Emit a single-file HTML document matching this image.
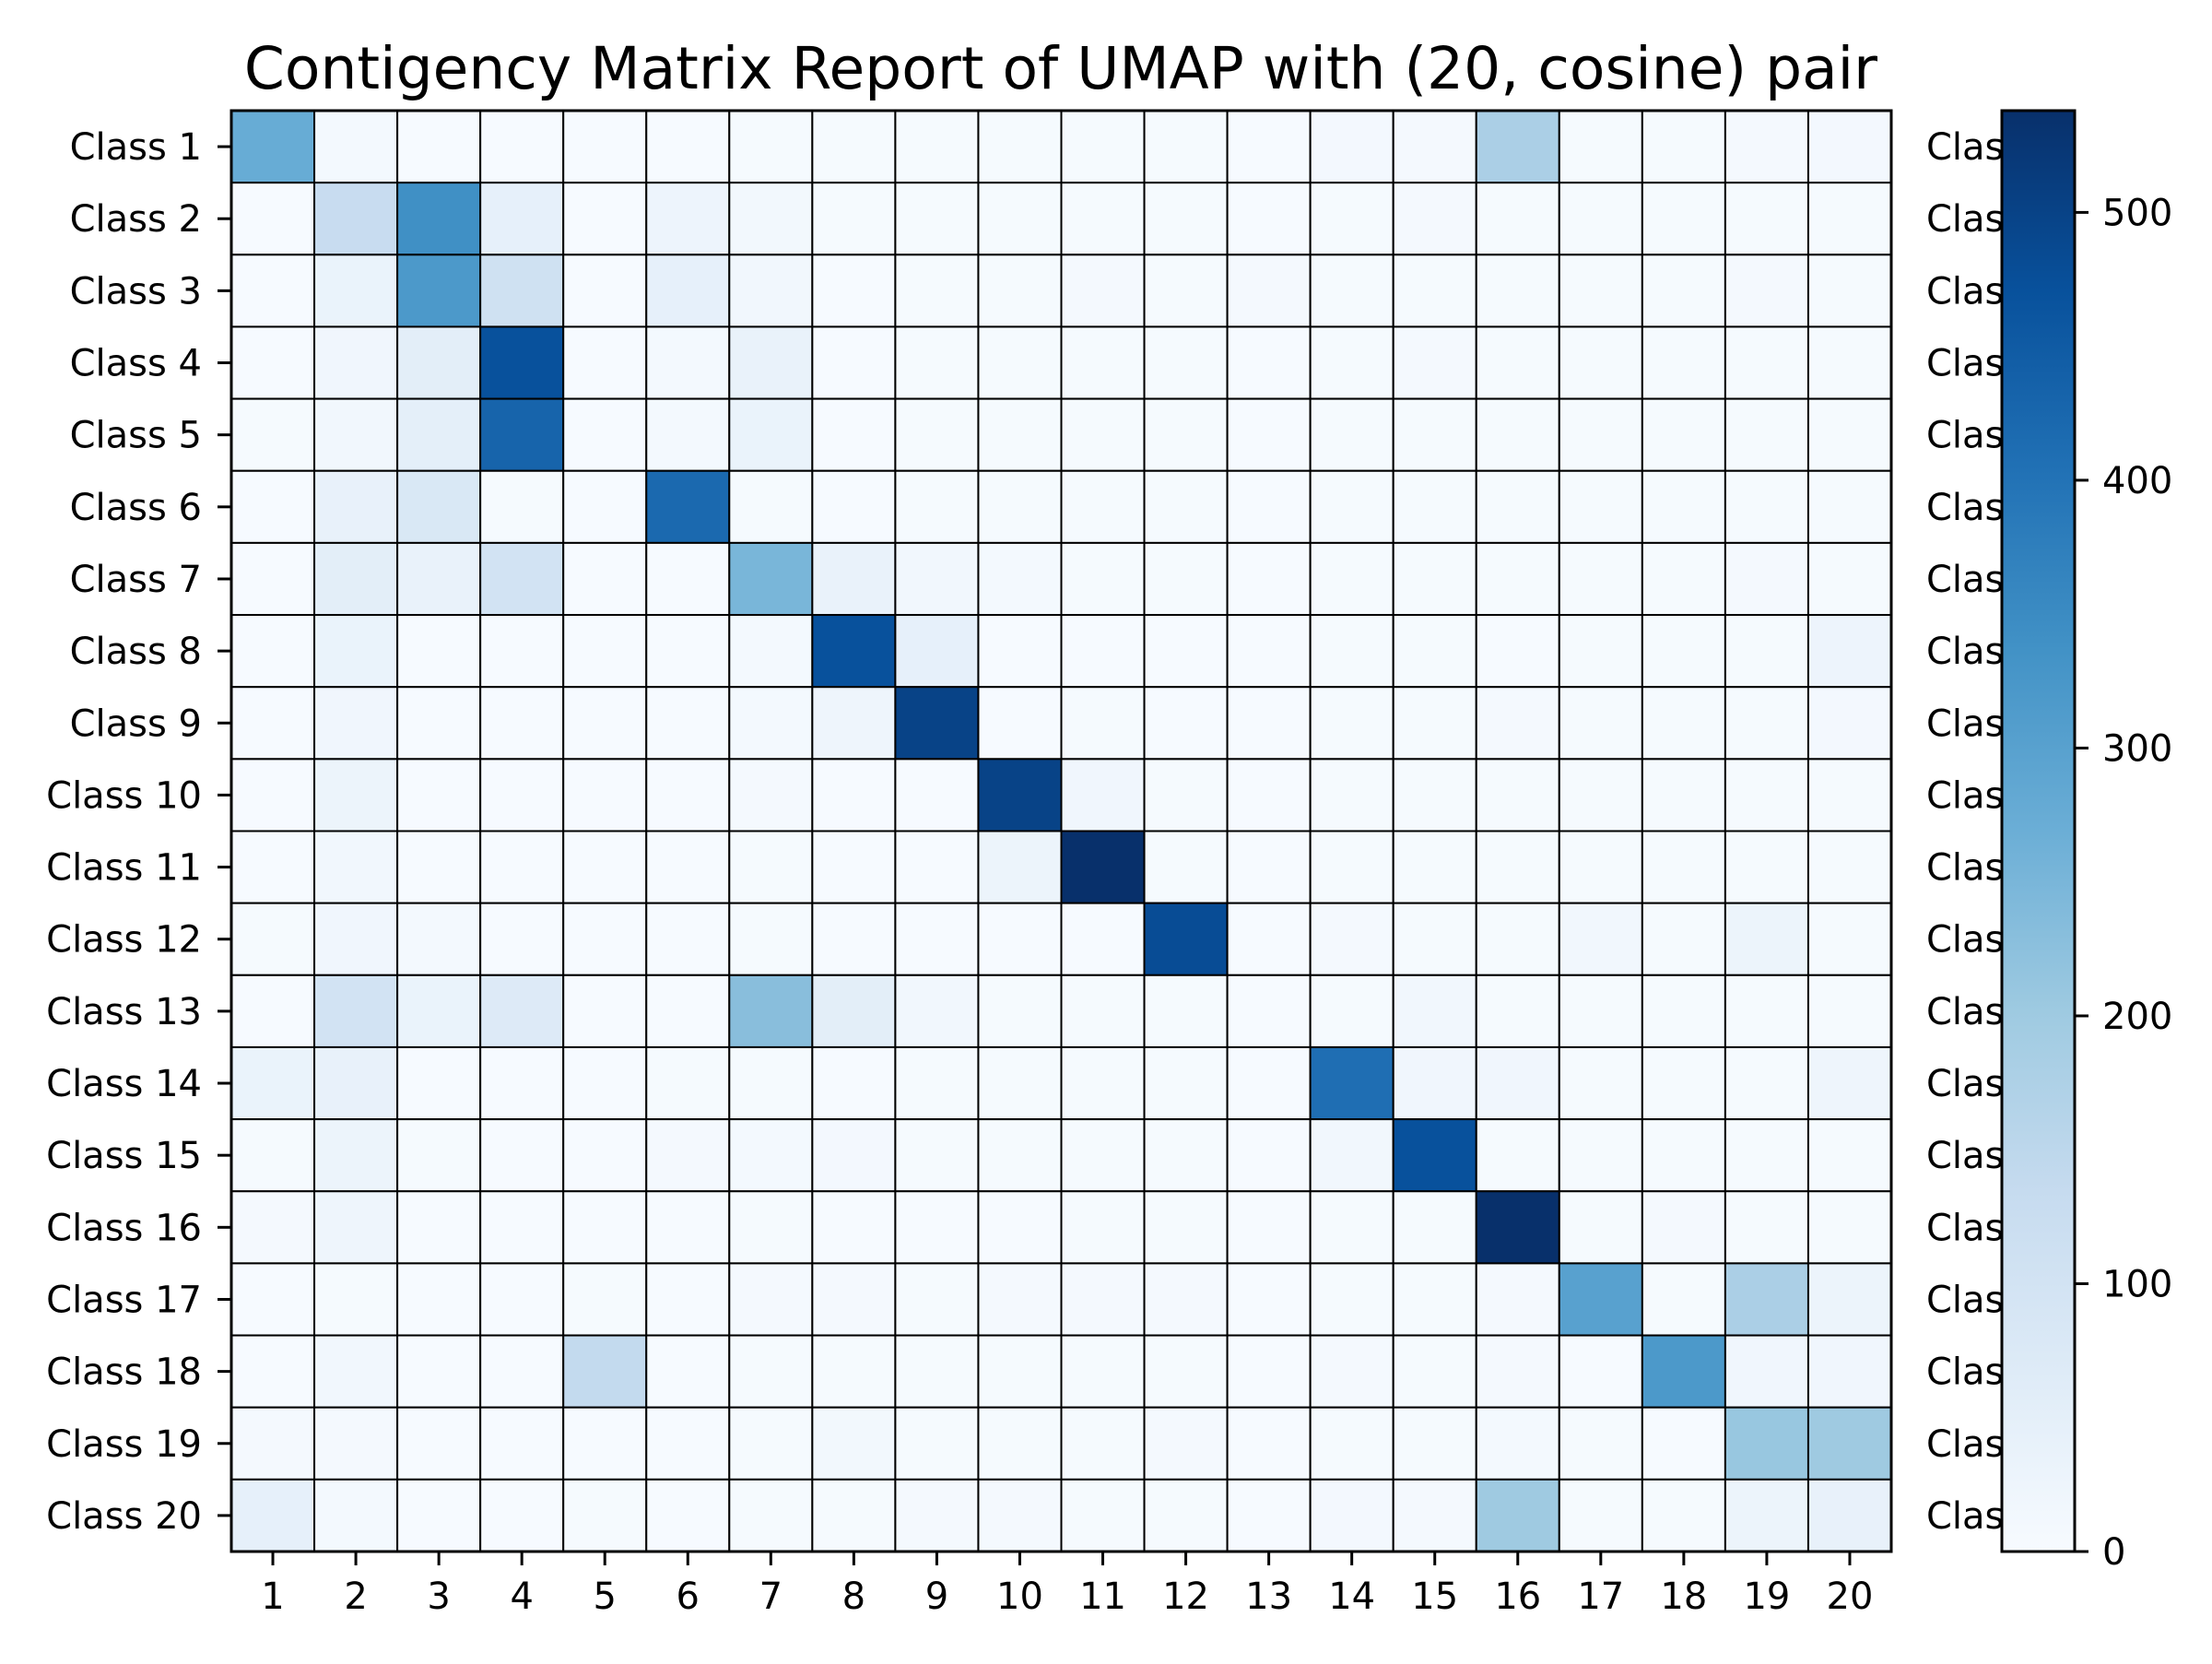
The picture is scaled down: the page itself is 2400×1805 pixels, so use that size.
<!DOCTYPE html>
<html><head><meta charset="utf-8"><style>
html,body{margin:0;padding:0;background:#fff;}
svg text{font-family:"DejaVu Sans","Liberation Sans",sans-serif;fill:#000;}
</style></head><body>
<svg id="chart" xmlns="http://www.w3.org/2000/svg" width="2400" height="1800" viewBox="0 0 2400 1800">
<rect width="2400" height="1800" fill="#fff"/>
<text x="1151" y="96" font-size="63" text-anchor="middle">Contigency Matrix Report of UMAP with (20, cosine) pair</text>
<defs>
<clipPath id="rclip"><rect x="2060" y="100" width="112" height="1620"/></clipPath>
<linearGradient id="cbgrad" x1="0" y1="1" x2="0" y2="0">
<stop offset="0" stop-color="#f7fbff"/><stop offset="0.125" stop-color="#deebf7"/><stop offset="0.25" stop-color="#c6dbef"/><stop offset="0.375" stop-color="#9ecae1"/><stop offset="0.5" stop-color="#6baed6"/><stop offset="0.625" stop-color="#4292c6"/><stop offset="0.75" stop-color="#2171b5"/><stop offset="0.875" stop-color="#08519c"/><stop offset="1" stop-color="#08306b"/>
</linearGradient>
</defs>
<g id="cells"></g>
<g id="axes"></g>
</svg>
<script>
const rowLabels = ["Class 1","Class 2","Class 3","Class 4","Class 5","Class 6","Class 7","Class 8","Class 9","Class 10","Class 11","Class 12","Class 13","Class 14","Class 15","Class 16","Class 17","Class 18","Class 19","Class 20"];
const colLabels = ["1","2","3","4","5","6","7","8","9","10","11","12","13","14","15","16","17","18","19","20"];
const cbTicks = [0,100,200,300,400,500];
const vmax = 538;
const row1  = [275,10,4,4,4,4,5,5,5,5,5,5,4,12,8,180,5,6,8,12];
const row2  = [4,130,340,45,4,28,14,5,5,5,5,5,4,5,8,5,5,5,5,6];
const row3  = [4,35,320,110,4,45,15,4,5,5,8,5,8,5,5,5,5,6,8,5];
const row4  = [4,20,55,470,4,10,38,4,5,5,5,5,4,5,8,5,5,5,5,6];
const row5  = [5,15,50,430,4,10,35,4,5,5,5,5,4,5,5,5,5,5,5,6];
const row6  = [4,40,80,5,4,420,5,4,5,5,5,5,4,5,6,5,5,5,5,6];
const row7  = [4,55,38,100,4,4,250,38,15,10,5,5,4,5,6,5,5,5,8,6];
const row8  = [4,35,4,4,4,4,10,470,45,4,4,4,4,5,5,4,5,5,5,28];
const row9  = [4,20,4,4,4,4,10,25,500,4,6,4,4,5,5,8,5,5,5,12];
const row10 = [4,30,4,4,4,4,8,4,4,500,20,5,4,5,5,5,5,5,5,6];
const row11 = [4,15,4,4,4,4,6,4,4,30,538,5,4,5,5,5,5,5,5,6];
const row12 = [6,20,10,4,4,4,6,4,4,4,4,480,4,8,5,5,15,5,30,5];
const row13 = [4,100,35,70,4,4,230,55,15,5,5,5,4,5,15,5,5,5,5,6];
const row14 = [35,40,4,4,4,5,6,4,6,5,5,6,4,410,20,20,5,5,6,25];
const row15 = [6,30,5,4,4,8,10,12,6,5,5,6,4,15,470,5,5,5,6,5];
const row16 = [8,25,4,4,4,4,5,4,4,4,5,6,4,5,5,538,5,8,5,5];
const row17 = [4,6,4,4,6,4,8,8,6,8,8,8,4,5,6,8,300,5,180,30];
const row18 = [4,15,4,4,140,4,6,6,6,6,6,6,4,8,5,8,4,320,20,20];
const row19 = [8,8,4,4,4,4,6,14,6,6,6,8,4,6,6,10,6,4,210,200];
const row20 = [45,10,4,4,5,4,5,5,8,8,6,6,4,12,8,200,5,5,30,40];
const matrix = [row1,row2,row3,row4,row5,row6,row7,row8,row9,row10,row11,row12,row13,row14,row15,row16,row17,row18,row19,row20];

const NS = "http://www.w3.org/2000/svg";
const X0 = 251, X1 = 2052, Y0 = 120, Y1 = 1683;
const CBX0 = 2172, CBX1 = 2251;
const cw = (X1 - X0) / colLabels.length, ch = (Y1 - Y0) / rowLabels.length;
function xPos(j){ return X0 + j * cw; }
function yPos(i){ return Y0 + i * ch; }
function cbY(v){ return Y1 - (v / vmax) * (Y1 - Y0); }
const stops = ["#f7fbff","#deebf7","#c6dbef","#9ecae1","#6baed6","#4292c6","#2171b5","#08519c","#08306b"];
function hex(c){ return [1,3,5].map(k=>parseInt(c.substr(k,2),16)); }
function color(v){
  let t = Math.max(0, Math.min(1, v / vmax)) * (stops.length - 1);
  let k = Math.min(Math.floor(t), stops.length - 2), f = t - k;
  const a = hex(stops[k]), b = hex(stops[k+1]);
  return "rgb(" + a.map((x,n)=>Math.round(x + (b[n]-x)*f)).join(",") + ")";
}
function mk(tag, attrs, parent){
  const e = document.createElementNS(NS, tag);
  for (const k in attrs) e.setAttribute(k, attrs[k]);
  parent.appendChild(e); return e;
}
const cells = document.getElementById("cells");
const axes = document.getElementById("axes");
matrix.forEach((row, i) => {
  row.forEach((v, j) => {
    const r = mk("rect", {x: xPos(j), y: yPos(i), width: cw, height: ch, fill: color(v), stroke: "#000", "stroke-width": 2}, cells);
    
    
  });
});
const frame = mk("rect", {x: X0, y: Y0, width: X1-X0, height: Y1-Y0, fill: "none", stroke: "#000", "stroke-width": 3}, axes);


rowLabels.forEach((lab, i) => {
  const cy = yPos(i) + ch/2;
  mk("line", {x1: X0-15, x2: X0, y1: cy, y2: cy, stroke: "#000", "stroke-width": 3}, axes);
  const t = mk("text", {x: X0-32, y: cy+14, "font-size": 40, "text-anchor": "end"}, axes);
  t.textContent = lab;
  
  
  const t2 = mk("text", {x: 2090, y: cy+14, "font-size": 40, "clip-path": "url(#rclip)"}, axes);
  t2.textContent = lab;
  
  
});
colLabels.forEach((lab, j) => {
  const cx = xPos(j) + cw/2;
  mk("line", {x1: cx, x2: cx, y1: Y1, y2: Y1+15, stroke: "#000", "stroke-width": 3}, axes);
  const t = mk("text", {x: cx, y: 1745, "font-size": 40, "text-anchor": "middle"}, axes);
  t.textContent = lab;
  
  
});
const cb = mk("rect", {x: CBX0, y: Y0, width: CBX1-CBX0, height: Y1-Y0, fill: "url(#cbgrad)", stroke: "#000", "stroke-width": 3}, axes);


cbTicks.forEach(v => {
  const y = cbY(v);
  mk("line", {x1: CBX1, x2: CBX1+15, y1: y, y2: y, stroke: "#000", "stroke-width": 3}, axes);
  const t = mk("text", {x: CBX1+30, y: y+14, "font-size": 40}, axes);
  t.textContent = String(v);
  
  
});
</script>
</body></html>
